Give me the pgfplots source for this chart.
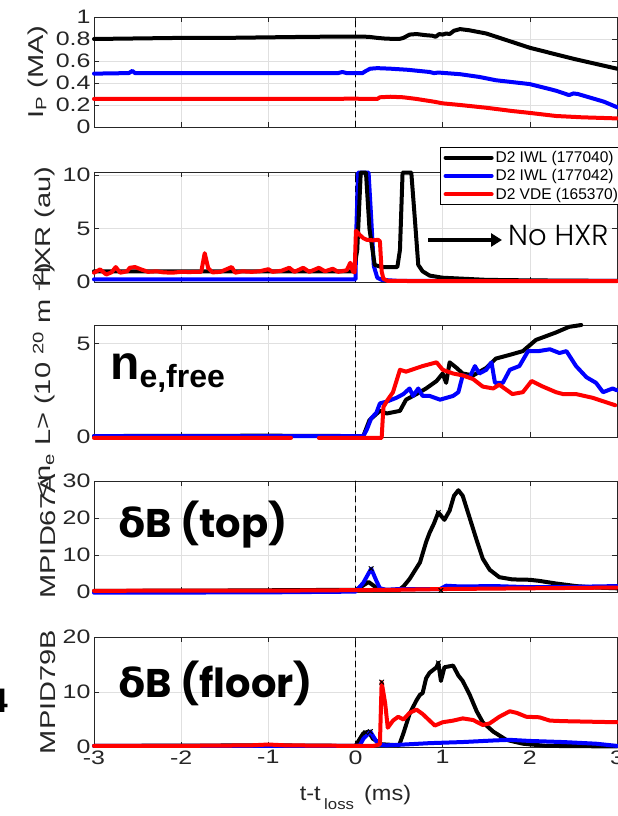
\documentclass[border=0pt]{standalone}
\usepackage{fontspec}
\setmainfont{Liberation Sans}[FakeStretch=1.28]
\newfontfamily\plainf{Liberation Sans}
\newfontfamily\labf{Liberation Sans}[FakeStretch=1.35]
\newfontfamily\xlabf{Liberation Sans}[FakeStretch=1.12]
\newfontfamily\popf{Poppins}
\newfontfamily\poplight{Poppins Light}
\newfontfamily\djvf{DejaVu Sans}
\usepackage{pgfplots}
\pgfplotsset{compat=1.18}
\usetikzlibrary{arrows.meta}
\definecolor{axisc}{HTML}{262626}
\definecolor{mblue}{HTML}{0000FF}
\definecolor{mred}{HTML}{FF0000}
\pgfplotsset{
  panel/.style={
    width=523pt, height=111pt, scale only axis,
    xmin=-3, xmax=3, xtick={-3,-2,-1,0,1,2,3},
    grid=major, major grid style={color=black!12, line width=0.6pt},
    axis line style={color=axisc, line width=0.7pt},
    tick style={color=axisc, line width=0.6pt},
    major tick length=5pt, tick align=inside,
    ticklabel style={font=\fontsize{19.5}{20}\selectfont, text=axisc},
    /pgf/number format/assume math mode=true,
    label style={font=\labf\fontsize{21.5}{22}\selectfont, text=axisc},
    every axis plot/.append style={line width=4pt, line join=round, line cap=round},
    clip=false, anchor=south west,
    ylabel style={at={(axis description cs:-0.067,0.5)}, anchor=south},
  },
  zline/.style={black, line width=0.6pt, dash pattern=on 6pt off 4pt, forget plot},
  xm/.style={only marks, mark=x, mark size=3pt, line width=1pt, forget plot},
}
\begin{document}
\begin{tikzpicture}
\useasboundingbox (0pt,0pt) rectangle (618pt,816pt);

% Panel 1: Ip
\begin{axis}[panel, at={(94pt,689pt)}, height=110pt, ymin=0, ymax=1,
  ytick={0,0.2,0.4,0.6,0.8,1}, xticklabels={},
  ylabel={I\textsubscript{P} (MA)},
  ylabel style={at={(axis description cs:-0.082,0.5)}}]
\addplot[zline] coordinates {(0,0) (0,1)};
\addplot[black] coordinates {(-3,0.80) (-2.5,0.805) (-2,0.81) (-1.5,0.81) (-1,0.815) (-0.5,0.82) (0,0.822) (0.15,0.82) (0.25,0.81) (0.35,0.803) (0.5,0.80) (0.55,0.81) (0.62,0.84) (0.7,0.845) (0.8,0.835) (0.88,0.83) (0.92,0.82) (0.96,0.845) (1.0,0.84) (1.04,0.85) (1.08,0.845) (1.13,0.875) (1.2,0.89) (1.3,0.88) (1.5,0.85) (2.0,0.72) (2.5,0.62) (3.0,0.53)};
\addplot[mblue] coordinates {(-3,0.485) (-2.6,0.49) (-2.56,0.51) (-2.53,0.49) (-2,0.49) (-1,0.49) (-0.2,0.49) (-0.15,0.50) (-0.1,0.49) (0,0.49) (0.08,0.49) (0.12,0.51) (0.17,0.53) (0.25,0.535) (0.4,0.53) (0.6,0.52) (0.85,0.50) (0.9,0.49) (0.95,0.495) (1.2,0.48) (1.42,0.455) (1.61,0.425) (2.0,0.39) (2.3,0.33) (2.45,0.29) (2.5,0.305) (2.55,0.30) (2.7,0.265) (2.85,0.23) (3.0,0.18)};
\addplot[mred] coordinates {(-3,0.255) (-1,0.255) (0,0.257) (0.25,0.255) (0.28,0.27) (0.4,0.275) (0.55,0.27) (0.7,0.255) (0.9,0.23) (1.0,0.215) (1.2,0.20) (1.5,0.175) (1.8,0.145) (2.0,0.128) (2.3,0.10) (2.6,0.088) (3.0,0.078)};
\end{axis}

% Panel 2: HXR
\begin{axis}[panel, at={(94pt,534pt)}, height=110pt, ymin=0, ymax=10.3,
  ytick={0,5,10}, xticklabels={},
  ylabel={HXR (au)},
  legend style={at={(rel axis cs:1.012,1.227)}, anchor=north east,
    font=\plainf\fontsize{15.5}{17}\selectfont, draw=black, line width=0.6pt,
    fill=white, inner xsep=3pt, inner ysep=2pt, row sep=1.5pt, cells={anchor=west}},
  legend image code/.code={\draw[#1] (0pt,0pt) -- (46pt,0pt);}]
\addlegendimage{black, line width=4pt}
\addlegendentry{D2 IWL (177040)}
\addlegendimage{mblue, line width=4pt}
\addlegendentry{D2 IWL (177042)}
\addlegendimage{mred, line width=4pt}
\addlegendentry{D2 VDE (165370)}
\addplot[zline] coordinates {(0,0) (0,10.3)};
\addplot[mblue, forget plot] coordinates {(-3,0.25) (0,0.25) (0.01,5) (0.03,10.25) (0.15,10.25) (0.18,6) (0.21,1.5) (0.25,0.4) (0.3,0.2) (0.5,0.1) (3,0.1)};
\addplot[black, forget plot] coordinates {(-3,1.0) (-0.02,1.0) (0.02,3) (0.06,10.25) (0.12,10.25) (0.16,5) (0.22,1.6) (0.3,1.4) (0.48,1.4) (0.51,3) (0.54,10.25) (0.64,10.25) (0.68,6) (0.72,1.6) (0.77,1.0) (0.85,0.6) (1.0,0.4) (1.5,0.2) (2.0,0.15) (3.0,0.1)};
\addplot[mred, forget plot] coordinates {(-3,0.87) (-2.93,1.18) (-2.86,0.7) (-2.8,0.9) (-2.75,1.4) (-2.7,0.87) (-2.62,1.0) (-2.59,1.33) (-2.53,1.4) (-2.46,1.18) (-2.38,0.95) (-2.28,1.0) (-2.2,0.9) (-2.1,0.87) (-2.0,0.95) (-1.91,0.93) (-1.82,0.95) (-1.77,0.95) (-1.73,2.7) (-1.69,1.3) (-1.64,0.9) (-1.55,0.95) (-1.42,1.4) (-1.38,0.87) (-1.3,1.0) (-1.19,0.95) (-1.1,1.0) (-1.0,1.2) (-0.95,0.95) (-0.85,1.05) (-0.76,1.33) (-0.7,0.95) (-0.6,1.33) (-0.53,0.95) (-0.42,1.33) (-0.35,1.0) (-0.26,1.24) (-0.2,0.95) (-0.1,1.1) (-0.06,1.8) (-0.03,1.0) (-0.01,0.9) (0.005,4.8) (0.05,4.4) (0.09,4.1) (0.13,3.95) (0.2,3.9) (0.26,3.95) (0.28,3.8) (0.3,1.0) (0.32,0.3) (0.37,0.1) (1,0.08) (3,0.08)};
\end{axis}

% Panel 3: <ne L>
\begin{axis}[panel, at={(94pt,379pt)}, height=112pt, ymin=0, ymax=6,
  ytick={0,5}, xticklabels={}, unbounded coords=jump,
  ylabel={\textless n\textsubscript{e} L\textgreater{} (10 \textsuperscript{20} m \textsuperscript{-2})}]
\addplot[zline] coordinates {(0,0) (0,6)};
\addplot[black] coordinates {(-3,0.05) (-1,0.07) (0,0.05) (0.09,0.05) (0.16,0.9) (0.28,1.4) (0.36,1.26) (0.51,1.4) (0.58,2.0) (0.7,2.3) (0.81,2.6) (0.93,3.0) (1.0,3.4) (1.04,2.9) (1.08,4.0) (1.16,3.7) (1.23,3.4) (1.35,3.3) (1.5,3.7) (1.61,4.2) (1.77,4.4) (1.92,4.6) (2.07,5.2) (2.3,5.6) (2.45,5.9) (2.59,6.0)};
\addplot[mblue] coordinates {(-3,0.05) (0.09,0.05) (0.13,0.4) (0.18,1.0) (0.24,1.3) (0.28,1.8) (0.36,1.9) (0.47,2.1) (0.55,2.3) (0.62,2.6) (0.66,2.2) (0.72,2.6) (0.77,2.2) (0.85,2.2) (0.97,2.0) (1.12,2.2) (1.18,2.4) (1.23,3.3) (1.31,3.2) (1.37,3.8) (1.42,3.4) (1.5,3.6) (1.56,4.0) (1.6,2.9) (1.69,2.9) (1.77,3.6) (1.88,3.8) (1.98,4.6) (2.1,4.6) (2.23,4.7) (2.34,4.5) (2.42,4.6) (2.53,3.8) (2.65,3.2) (2.76,2.9) (2.84,2.4) (2.95,2.6) (3.0,2.5)};
\addplot[mred] coordinates {(-3,-0.05) (-0.74,-0.05) (-0.6,nan) (-0.42,-0.05) (0.30,-0.05) (0.32,1.6) (0.37,2.0) (0.43,2.4) (0.51,3.6) (0.58,3.5) (0.77,3.8) (0.93,4.0) (1.0,3.6) (1.12,3.4) (1.23,3.3) (1.35,3.1) (1.46,2.7) (1.58,2.6) (1.65,2.8) (1.8,2.3) (1.92,2.4) (2.02,3.0) (2.15,2.7) (2.3,2.4) (2.38,2.3) (2.53,2.3) (2.72,2.1) (2.98,1.7)};
\end{axis}

% Panel 4: dB top
\begin{axis}[panel, at={(94pt,224pt)}, height=111pt, ymin=0, ymax=30,
  ytick={0,10,20,30}, xticklabels={},
  ylabel={MPID67A}]
\addplot[zline] coordinates {(0,0) (0,30)};
\addplot[black] coordinates {(-3,0.3) (-1.5,0.4) (0,0.6) (0.05,1.2) (0.15,2.7) (0.25,1.0) (0.35,0.5) (0.5,0.6) (0.55,1.5) (0.62,3.5) (0.74,8) (0.81,13.5) (0.85,16) (0.9,18.5) (0.95,21.5) (1.02,19.5) (1.08,22) (1.13,26) (1.18,27.5) (1.23,26) (1.31,20) (1.39,14) (1.46,9) (1.54,6) (1.65,4) (1.8,3.4) (2.0,3.3) (2.11,3.0) (2.3,2.3) (2.53,1.6) (2.76,1.2) (3.0,1.0)};
\addplot[mblue] coordinates {(-3,-0.2) (-1,-0.1) (0,0.1) (0.09,2.5) (0.18,6.3) (0.24,3) (0.28,1.0) (0.35,0.6) (0.5,0.8) (0.97,0.8) (1.04,1.7) (1.2,1.5) (1.6,1.6) (2.0,1.3) (2.5,1.4) (3.0,1.6)};
\addplot[mred] coordinates {(-3,0.3) (-2,0.4) (-1,0.35) (0,0.5) (0.5,0.6) (1.0,0.8) (2,1.0) (3.0,1.2)};
\addplot[xm, black] coordinates {(0.95,21.5) (0.98,0.4) (0.18,6.3)};
\end{axis}

% Panel 5: dB floor
\begin{axis}[panel, at={(94pt,69pt)}, height=110pt, ymin=0, ymax=20,
  ytick={0,10,20},
  ylabel={MPID79B},
  xlabel={t-t\,\raisebox{-9pt}{\fontsize{15}{15}\selectfont loss}\, (ms)},
  xlabel style={font=\xlabf\fontsize{21}{22}\selectfont, at={(axis description cs:0.5,-0.32)}, anchor=north}]
\addplot[zline] coordinates {(0,0) (0,20)};
\addplot[black] coordinates {(-3,0.2) (-1,0.3) (0,0.2) (0.05,1.5) (0.09,2.5) (0.15,2.8) (0.2,1.5) (0.3,0.5) (0.5,0.3) (0.55,2.5) (0.62,6) (0.7,8.5) (0.74,9.5) (0.77,9.8) (0.81,12.5) (0.85,13.5) (0.93,14.5) (0.95,15.3) (0.98,12) (1.02,14.5) (1.12,14.8) (1.18,13) (1.23,12) (1.31,9.5) (1.39,6.5) (1.46,4.5) (1.58,2.8) (1.73,1.3) (1.92,0.6) (2.19,0.2) (3.0,0.1)};
\addplot[mblue] coordinates {(-3,0.2) (0,0.2) (0.05,0.3) (0.09,1.5) (0.17,2.8) (0.24,1.0) (0.28,0.4) (0.35,0.3) (0.5,0.4) (0.85,0.7) (1.23,0.9) (1.6,1.2) (1.77,1.3) (2.0,1.1) (2.38,0.9) (2.76,0.6) (3.0,0.2)};
\addplot[mred] coordinates {(-3,0.2) (-2,0.2) (-1.2,0.3) (-1.0,0.45) (-0.8,0.3) (0,0.2) (0.2,0.2) (0.24,0.3) (0.28,0.5) (0.30,11.8) (0.34,8) (0.37,3.5) (0.43,4.8) (0.49,5.5) (0.55,5.0) (0.62,6.2) (0.7,6.8) (0.77,6.0) (0.85,4.8) (0.91,3.9) (1.0,4.5) (1.12,4.8) (1.23,5.2) (1.35,4.9) (1.46,4.0) (1.54,4.3) (1.65,5.5) (1.77,6.5) (1.85,6.2) (1.96,5.5) (2.11,5.4) (2.23,4.8) (2.38,4.7) (3.0,4.5)};
\addplot[xm, black] coordinates {(0.95,15.3) (0.30,11.8) (0.17,2.8) (0.12,2.6)};
\end{axis}

% annotations
\node[anchor=base west, inner sep=0pt] at (110pt,436pt) {\plainf\bfseries{\fontsize{48}{48}\selectfont n}{\fontsize{32}{32}\selectfont\raisebox{-8pt}{e,free}}};
\node[anchor=base west, inner sep=0pt] at (118pt,278pt) {{\djvf\bfseries\fontsize{40}{40}\selectfont δ}{\popf\bfseries\fontsize{40}{40}\selectfont B (top)}};
\node[anchor=base west, inner sep=0pt] at (118pt,118pt) {{\djvf\bfseries\fontsize{40}{40}\selectfont δ}{\popf\bfseries\fontsize{40}{40}\selectfont B (floor)}};
\node[anchor=base east, inner sep=0pt] at (8pt,103pt) {\plainf\bfseries\fontsize{34}{34}\selectfont 4};
\draw[line width=3.5pt, -{Triangle[length=11pt,width=13pt]}] (428pt,576pt) -- (502pt,576pt);
\node[anchor=base west, inner sep=0pt] at (508pt,570pt) {\poplight\fontsize{29}{29}\selectfont No HXR};
\end{tikzpicture}
\end{document}
